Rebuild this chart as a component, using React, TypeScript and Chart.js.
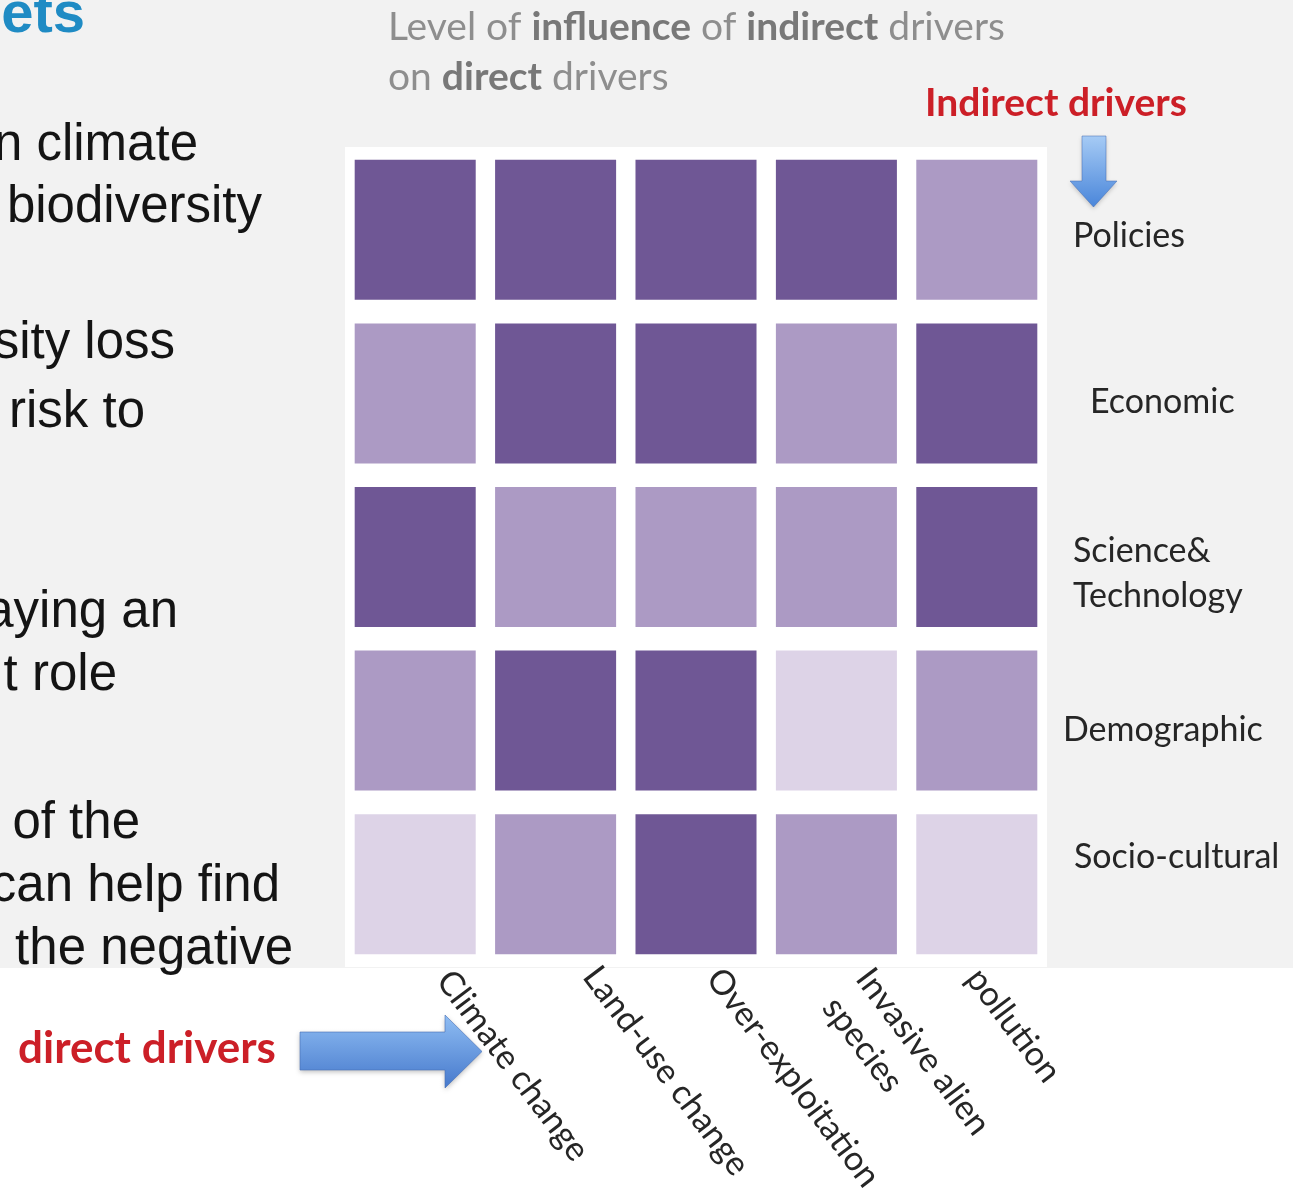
import React, { useEffect, useRef } from "react";
import { Chart, registerables } from "chart.js";

Chart.register(...registerables);

// ---- data ----
const directDrivers = ["Climate change", "Land-use change", "Over-exploitation", "Invasive alien species", "pollution"];
const directDriverLines = [["Climate change"], ["Land-use change"], ["Over-exploitation"], ["Invasive alien", "species"], ["pollution"]];
const indirectDrivers = ["Policies", "Economic", "Science& Technology", "Demographic", "Socio-cultural"];
const indirectDriverLines = [["Policies"], ["Economic"], ["Science&", "Technology"], ["Demographic"], ["Socio-cultural"]];

// influence level of each indirect driver on each direct driver (1 = low, 2 = medium, 3 = high)
const policiesLevels = [3, 3, 3, 3, 2];
const economicLevels = [2, 3, 3, 2, 3];
const scienceTechLevels = [3, 2, 2, 2, 3];
const demographicLevels = [2, 3, 3, 1, 2];
const socioCulturalLevels = [1, 2, 3, 2, 1];
const levelRows = [policiesLevels, economicLevels, scienceTechLevels, demographicLevels, socioCulturalLevels];

const titleLine1 = [
  { text: "Level of ", bold: false },
  { text: "influence", bold: true },
  { text: " of ", bold: false },
  { text: "indirect", bold: true },
  { text: " drivers", bold: false },
];
const titleLine2 = [
  { text: "on ", bold: false },
  { text: "direct", bold: true },
  { text: " drivers", bold: false },
];
const indirectHeading = "Indirect drivers";
const directHeading = "direct drivers";

// slide body text beside the matrix
const slideHeading = "ets";
const slideLines = [
  "n climate",
  "biodiversity",
  "rsity loss",
  "g risk to",
  "aying an",
  "t role",
  "of the",
  "can help find",
  "the negative",
];

// ---- styling / layout ----
const W = 1293;
const H = 1189;
const levelColors: Record<number, string> = { 1: "#ddd3e7", 2: "#ac9ac4", 3: "#6f5795" };
const LABEL_FONT = "Lato, 'Open Sans', sans-serif";
const CELL_FILL_Y = 0.856;
const CELL_FILL_X = 0.862;
const X_LABEL_ANGLE = (53 * Math.PI) / 180;
const rowLabelPlacement = [
  { dx: 26, dy: 17 },
  { dx: 43, dy: 20 },
  { dx: 26, dy: 5 },
  { dx: 16, dy: 20 },
  { dx: 27, dy: -16 },
];
const colLabelPlacement = [
  { dx: 20, dy: 15 },
  { dx: 26, dy: 11 },
  { dx: 9, dy: 13 },
  { dx: 18, dy: 13 },
  { dx: -12, dy: 13 },
];
const slideLinePlacement = [
  { right: 198, base: 160 },
  { right: 262, base: 222 },
  { right: 175, base: 358 },
  { right: 145, base: 427 },
  { right: 178, base: 627 },
  { right: 117, base: 690 },
  { right: 140, base: 838 },
  { right: 280, base: 901 },
  { right: 293, base: 964 },
];

type Run = { text: string; bold: boolean };

function drawRuns(ctx: CanvasRenderingContext2D, runs: Run[], x: number, y: number, size: number) {
  let cx = x;
  for (const run of runs) {
    ctx.font = `${run.bold ? "bold " : ""}${size}px ${LABEL_FONT}`;
    ctx.fillStyle = run.bold ? "#787878" : "#8e8e8e";
    ctx.fillText(run.text, cx, y);
    cx += ctx.measureText(run.text).width;
  }
}

function blueFill(ctx: CanvasRenderingContext2D, y0: number, y1: number, light: string, dark: string) {
  const g = ctx.createLinearGradient(0, y0, 0, y1);
  g.addColorStop(0, light);
  g.addColorStop(1, dark);
  return g;
}

function drawRightArrow(ctx: CanvasRenderingContext2D) {
  const sx0 = 300, sx1 = 445, sy0 = 1032, sy1 = 1070, hy0 = 1015, hy1 = 1088, tipX = 482;
  const tipY = (hy0 + hy1) / 2;
  ctx.save();
  ctx.shadowColor = "rgba(0,0,0,0.25)";
  ctx.shadowBlur = 5;
  ctx.shadowOffsetY = 2;
  ctx.beginPath();
  ctx.moveTo(sx0, sy0);
  ctx.lineTo(sx1, sy0);
  ctx.lineTo(sx1, hy0);
  ctx.lineTo(tipX, tipY);
  ctx.lineTo(sx1, hy1);
  ctx.lineTo(sx1, sy1);
  ctx.lineTo(sx0, sy1);
  ctx.closePath();
  ctx.fillStyle = blueFill(ctx, hy0, hy1, "#8fbdf3", "#4679cc");
  ctx.fill();
  ctx.restore();
  ctx.lineWidth = 1;
  ctx.strokeStyle = "rgba(70,110,180,0.6)";
  ctx.stroke();
}

function drawDownArrow(ctx: CanvasRenderingContext2D) {
  const sx0 = 1082, sx1 = 1106, sy0 = 136, hy = 181, hx0 = 1070, hx1 = 1117, tipY = 207;
  const tipX = (hx0 + hx1) / 2;
  ctx.save();
  ctx.shadowColor = "rgba(0,0,0,0.2)";
  ctx.shadowBlur = 4;
  ctx.shadowOffsetY = 2;
  ctx.beginPath();
  ctx.moveTo(sx0, sy0);
  ctx.lineTo(sx1, sy0);
  ctx.lineTo(sx1, hy);
  ctx.lineTo(hx1, hy);
  ctx.lineTo(tipX, tipY);
  ctx.lineTo(hx0, hy);
  ctx.lineTo(sx0, hy);
  ctx.closePath();
  ctx.fillStyle = blueFill(ctx, sy0, tipY, "#a6cbf5", "#4a86da");
  ctx.fill();
  ctx.restore();
  ctx.lineWidth = 1;
  ctx.strokeStyle = "rgba(70,110,180,0.5)";
  ctx.stroke();
}

// slide background and the white panel behind the matrix
const backdropPlugin = {
  id: "backdrop",
  beforeDraw(chart: any) {
    const { ctx, chartArea } = chart;
    ctx.save();
    ctx.fillStyle = "#ffffff";
    ctx.fillRect(0, 0, W, H);
    ctx.fillStyle = "#f2f2f2";
    ctx.fillRect(0, 0, W, 968);
    ctx.fillStyle = "#ffffff";
    ctx.fillRect(chartArea.left, chartArea.top - 1, chartArea.right - chartArea.left, chartArea.bottom - chartArea.top + 2);
    ctx.restore();
  },
};

// axis labels, headings, arrows and surrounding slide text
const annotationPlugin = {
  id: "annotations",
  afterDraw(chart: any) {
    const { ctx, chartArea, scales } = chart;
    const xs = scales.x;
    const ys = scales.y;
    ctx.save();
    ctx.textAlign = "left";
    ctx.textBaseline = "alphabetic";

    // row labels (indirect drivers)
    ctx.font = `34px ${LABEL_FONT}`;
    ctx.fillStyle = "#262626";
    indirectDriverLines.forEach((lines, r) => {
      const center = ys.getPixelForValue(indirectDrivers.length - r - 0.5);
      const p = rowLabelPlacement[r];
      lines.forEach((line, k) => {
        ctx.fillText(line, chartArea.right + p.dx, center + p.dy + k * 45);
      });
    });

    // column labels (direct drivers), rotated
    directDriverLines.forEach((lines, i) => {
      const p = colLabelPlacement[i];
      const ax = xs.getPixelForValue(i) + p.dx;
      const ay = chartArea.bottom + p.dy;
      ctx.save();
      ctx.translate(ax, ay);
      ctx.rotate(X_LABEL_ANGLE);
      lines.forEach((line, k) => ctx.fillText(line, k * 3, k * 44));
      ctx.restore();
    });

    // title
    drawRuns(ctx, titleLine1, 388, 40, 39);
    drawRuns(ctx, titleLine2, 388, 90, 39);

    // red headings
    ctx.fillStyle = "#cc1f27";
    ctx.font = `bold 39px ${LABEL_FONT}`;
    ctx.fillText(indirectHeading, 925, 116);
    ctx.font = `bold 44px ${LABEL_FONT}`;
    ctx.fillText(directHeading, 18, 1063);

    drawDownArrow(ctx);
    drawRightArrow(ctx);

    // slide body text (cut by the left edge)
    ctx.textAlign = "right";
    ctx.font = `bold 58px "Liberation Sans", Arial, sans-serif`;
    ctx.fillStyle = "#1f8bc4";
    ctx.fillText(slideHeading, 85, 32);
    ctx.font = `51px "Liberation Sans", Arial, sans-serif`;
    ctx.fillStyle = "#141414";
    slideLines.forEach((line, i) => {
      const p = slideLinePlacement[i];
      ctx.fillText(line, p.right, p.base);
    });
    ctx.restore();
  },
};

export default function App() {
  const canvasRef = useRef<HTMLCanvasElement | null>(null);

  useEffect(() => {
    const canvas = canvasRef.current;
    if (!canvas) return;
    const rows = indirectDrivers.length;
    const inset = (1 - CELL_FILL_Y) / 2;
    const chart = new Chart(canvas, {
      type: "bar",
      data: {
        labels: directDrivers,
        datasets: levelRows.map((levels, r) => ({
          label: indirectDrivers[r],
          data: levels.map(() => [rows - 1 - r + inset, rows - r - inset]) as any,
          backgroundColor: levels.map((l) => levelColors[l]),
          borderWidth: 0,
          grouped: false,
          barPercentage: CELL_FILL_X,
          categoryPercentage: 1,
        })),
      },
      options: {
        responsive: false,
        animation: false,
        devicePixelRatio: 1,
        events: [],
        layout: { padding: { left: 345, right: 246, top: 148, bottom: 223 } },
        scales: {
          x: { display: false, offset: true },
          y: { display: false, min: 0, max: rows },
        },
        plugins: {
          legend: { display: false },
          tooltip: { enabled: false },
        },
      } as any,
      plugins: [backdropPlugin, annotationPlugin],
    });
    return () => chart.destroy();
  }, []);

  return (
    <div style={{ position: "fixed", left: 0, top: 0, width: W, height: H, background: "#fff" }}>
      <canvas ref={canvasRef} width={W} height={H} style={{ display: "block", width: W, height: H }} />
    </div>
  );
}
